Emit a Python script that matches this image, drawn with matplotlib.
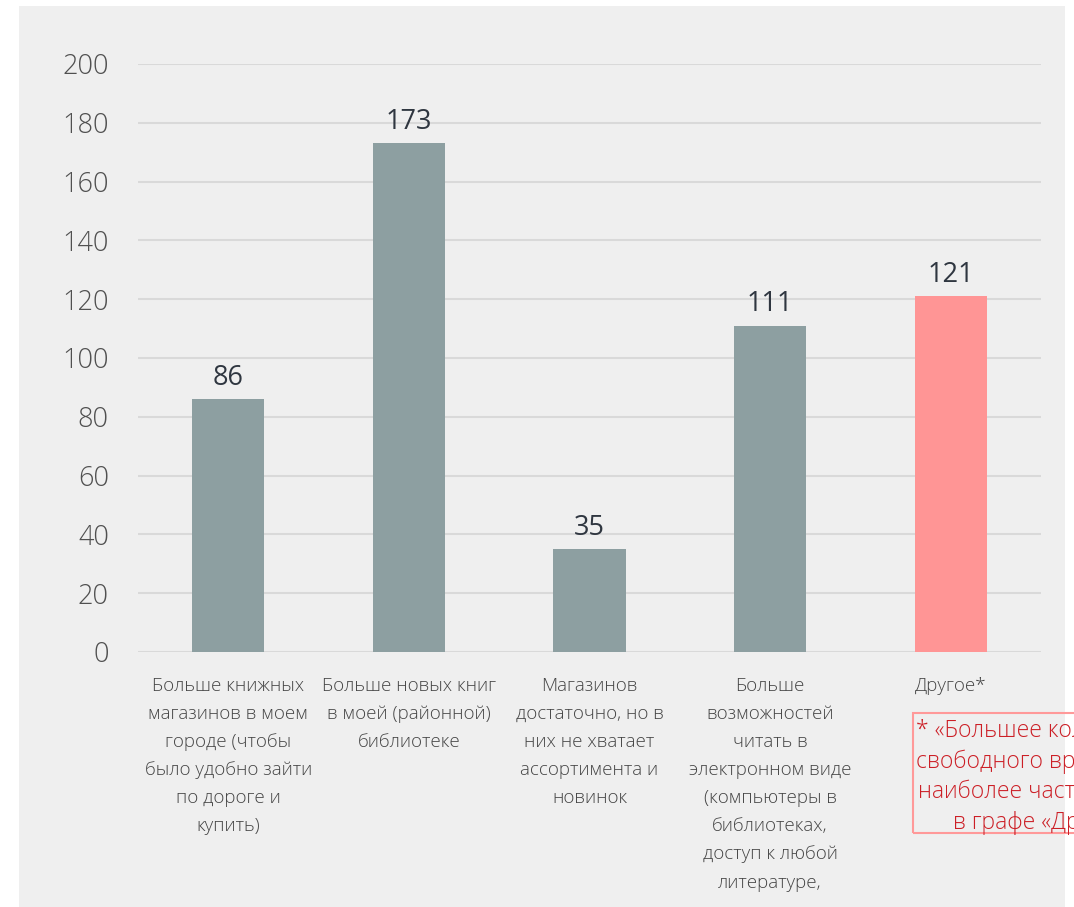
import matplotlib.pyplot as plt
from matplotlib.patches import Rectangle

categories = [
    "Больше книжных\nмагазинов в моем\nгороде (чтобы\nбыло удобно зайти\nпо дороге и\nкупить)",
    "Больше новых книг\nв моей (районной)\nбиблиотеке",
    "Магазинов\nдостаточно, но в\nних не хватает\nассортимента и\nновинок",
    "Больше\nвозможностей\nчитать в\nэлектронном виде\n(компьютеры в\nбиблиотеках,\nдоступ к любой\nлитературе,",
    "Другое*",
]
values = [86, 173, 35, 111, 121]
bar_colors = ["#8d9fa1", "#8d9fa1", "#8d9fa1", "#8d9fa1", "#ff9595"]
y_ticks = [0, 20, 40, 60, 80, 100, 120, 140, 160, 180, 200]
note = "* «Большее количество\nсвободного времени» –\nнаиболее частый ответ\nв графе «Другое»"

plt.rcParams['font.family'] = ['Open Sans', 'DejaVu Sans']
plt.rcParams['font.weight'] = 'light'

W, H = 1074, 907
fig = plt.figure(figsize=(W / 100, H / 100), dpi=100)
fig.patch.set_facecolor("white")

# grey panel behind the chart
fig.patches.append(Rectangle((19 / W, 0), (1065 - 19) / W, (907 - 6) / H,
                             transform=fig.transFigure, facecolor="#efefef",
                             edgecolor="none", zorder=-10))

ax = fig.add_axes([138 / W, (907 - 652) / H, (1041 - 138) / W, (652 - 64) / H])
ax.set_facecolor("none")
ax.set_zorder(1)

x = range(len(values))
ax.bar(x, values, width=0.4, color=bar_colors, zorder=3)
for i, v in enumerate(values):
    ax.text(i, v + 2.5, str(v), ha="center", va="bottom", fontsize=19.5,
            color="#2f3640", fontweight="normal")

ax.set_xlim(-0.5, len(values) - 0.5)
ax.set_ylim(0, 200)
ax.set_yticks(y_ticks)
ax.yaxis.grid(True, color="#d9d9d9", linewidth=1.5, zorder=0)
ax.set_axisbelow(True)
for s in ax.spines.values():
    s.set_visible(False)
ax.tick_params(axis="y", length=0, pad=21, labelsize=19.5, labelcolor="#505050")
ax.tick_params(axis="x", length=0, pad=18)
ax.set_xticks(list(x))
ax.set_xticklabels(categories, fontsize=13.5, color="#454545",
                   linespacing=1.72, va="top")

# red note box, partly cut off at the right edge
fig.patches.append(Rectangle((913 / W, (907 - 833) / H), 260 / W, 120 / H,
                             transform=fig.transFigure, facecolor="none",
                             edgecolor="#ff9999", linewidth=1.5, zorder=5))
fig.text(1044 / W, (907 - 777) / H, note, ha="center", va="center",
         fontsize=16.5, color="#cc1f26", linespacing=1.35, zorder=6)

fig.savefig("out.png", dpi=100)
